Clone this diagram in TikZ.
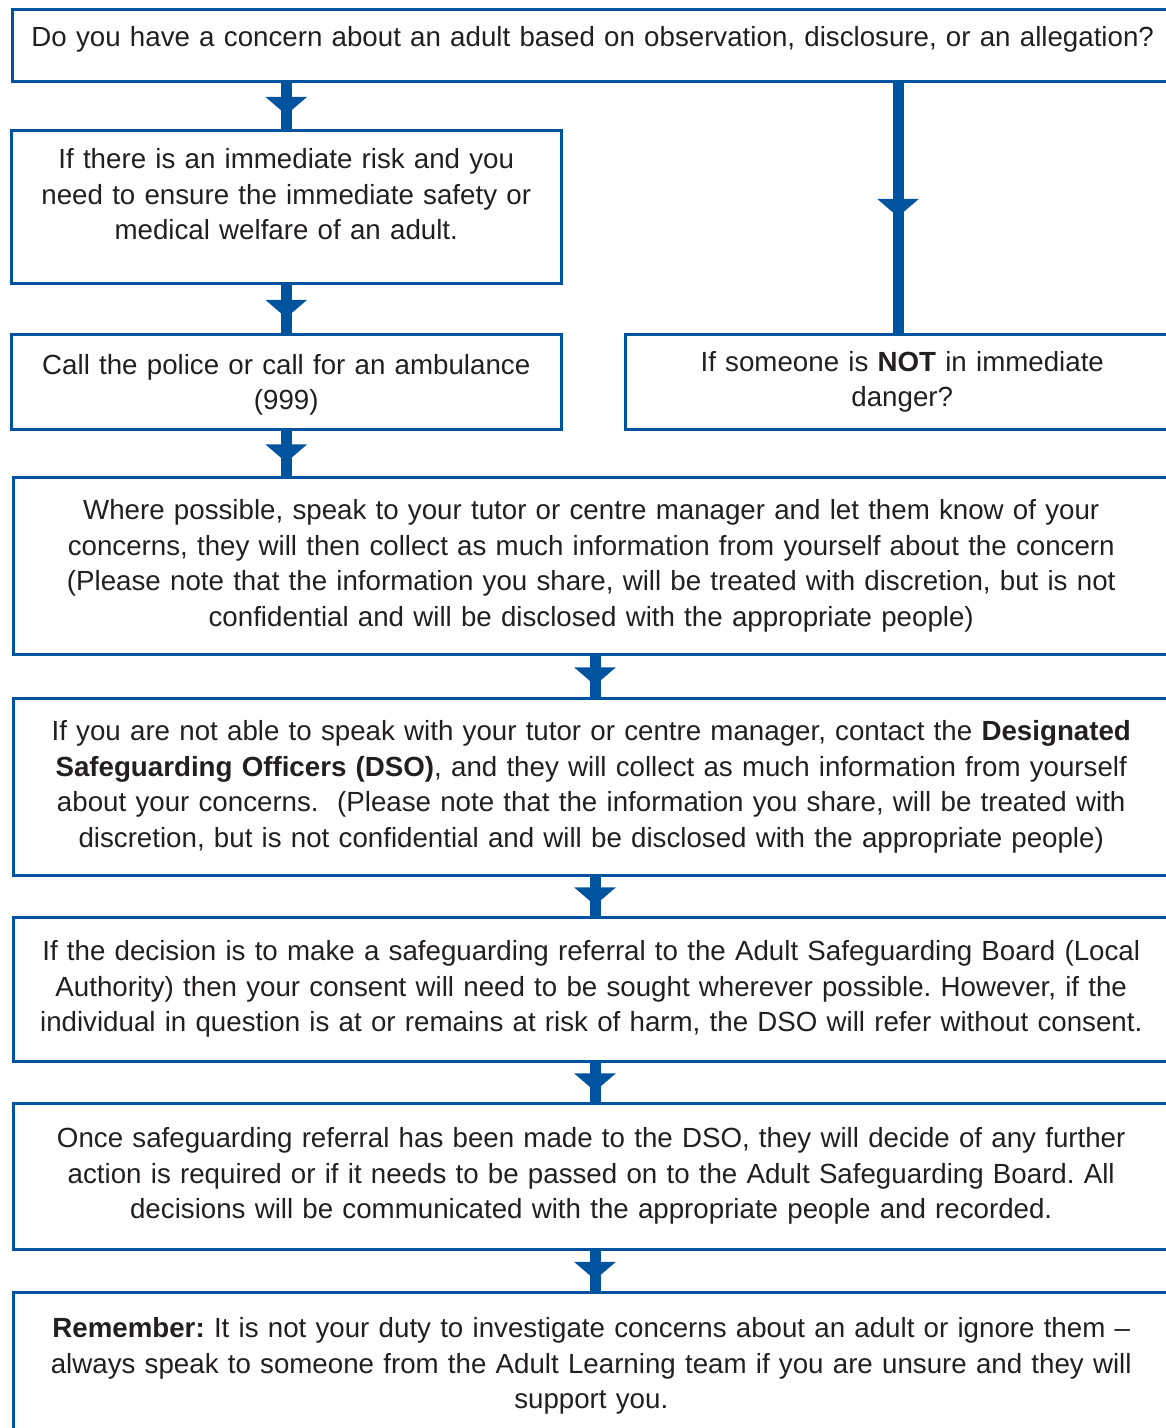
\documentclass[tikz,border=0pt]{standalone}
\usepackage{fontspec}
\setmainfont{Liberation Sans}
\usetikzlibrary{decorations.markings}
\definecolor{sgblue}{RGB}{0,84,159}
\definecolor{sgtext}{RGB}{35,31,32}

\begin{document}
\begin{tikzpicture}[x=1pt, y=-1pt,
    box/.style={draw=sgblue, line width=2.5pt, anchor=north west, inner sep=0pt,
        align=center, text=sgtext, font=\fontsize{27.7}{35.5}\selectfont\frenchspacing},
    flow/.style={draw=sgblue, line width=11pt, postaction={decorate},
        decoration={markings, mark=at position 0.5 with
            {\fill[sgblue] (-9pt,21pt) -- (9pt,0pt) -- (-9pt,-21pt) -- cycle;}}}]
    \useasboundingbox (0,0) rectangle (1166,1428);
    \clip (0,0) rectangle (1166,1428);

    % left column
    \node[box, minimum width=1161pt, minimum height=72pt, text width=1150pt, text depth=18pt] (concern) at (11,8)
        {Do you have a concern about an adult based on observation, disclosure, or an allegation?};
    \node[box, minimum width=550pt, minimum height=153pt, text width=540pt, text depth=96pt] (risk) at (10,129)
        {If there is an immediate risk and you\\need to ensure the immediate safety or\\medical welfare of an adult.};
    \node[box, minimum width=550pt, minimum height=95pt, text width=540pt, text depth=35pt] (police) at (10,333)
        {Call the police or call for an ambulance\\(999)};

    % right column
    \node[box, minimum width=554pt, minimum height=95pt, text width=540pt] (notdanger) at (624,333)
        {If someone is \textbf{NOT} in immediate\\danger?};

    % full width steps
    \node[box, minimum width=1156pt, minimum height=177pt, text width=1150pt] (tutor) at (12,476)
        {Where possible, speak to your tutor or centre manager and let them know of your\\concerns, they will then collect as much information from yourself about the concern\\(Please note that the information you share, will be treated with discretion, but is not\\confidential and will be disclosed with the appropriate people)};
    \node[box, minimum width=1156pt, minimum height=177pt, text width=1150pt] (dso) at (12,697)
        {If you are not able to speak with your tutor or centre manager, contact the \textbf{Designated}\\\textbf{Safeguarding Officers (DSO)}, and they will collect as much information from yourself\\about your concerns.\ \ (Please note that the information you share, will be treated with\\discretion, but is not confidential and will be disclosed with the appropriate people)};
    \node[box, minimum width=1156pt, minimum height=144pt, text width=1150pt] (referral) at (12,916)
        {If the decision is to make a safeguarding referral to the Adult Safeguarding Board (Local\\Authority) then your consent will need to be sought wherever possible. However, if the\\individual in question is at or remains at risk of harm, the DSO will refer without consent.};
    \node[box, minimum width=1156pt, minimum height=146pt, text width=1150pt] (decide) at (12,1102)
        {Once safeguarding referral has been made to the DSO, they will decide of any further\\action is required or if it needs to be passed on to the Adult Safeguarding Board. All\\decisions will be communicated with the appropriate people and recorded.};
    \node[box, minimum width=1156pt, minimum height=148pt, text width=1150pt] (remember) at (12,1291)
        {\textbf{Remember:} It is not your duty to investigate concerns about an adult or ignore them --\\always speak to someone from the Adult Learning team if you are unsure and they will\\support you.};

    \coordinate (mid) at (595,0);
    \coordinate (side) at (898,0);

    \draw[flow] (risk.north |- concern.south) -- (risk.north);
    \draw[flow] (risk.south) -- (police.north);
    \draw[flow] (police.south) -- (police.south |- tutor.north);
    \draw[flow] (side |- concern.south) -- (side |- notdanger.north);
    \draw[flow] (mid |- tutor.south) -- (mid |- dso.north);
    \draw[flow] (mid |- dso.south) -- (mid |- referral.north);
    \draw[flow] (mid |- referral.south) -- (mid |- decide.north);
    \draw[flow] (mid |- decide.south) -- (mid |- remember.north);
\end{tikzpicture}
\end{document}
